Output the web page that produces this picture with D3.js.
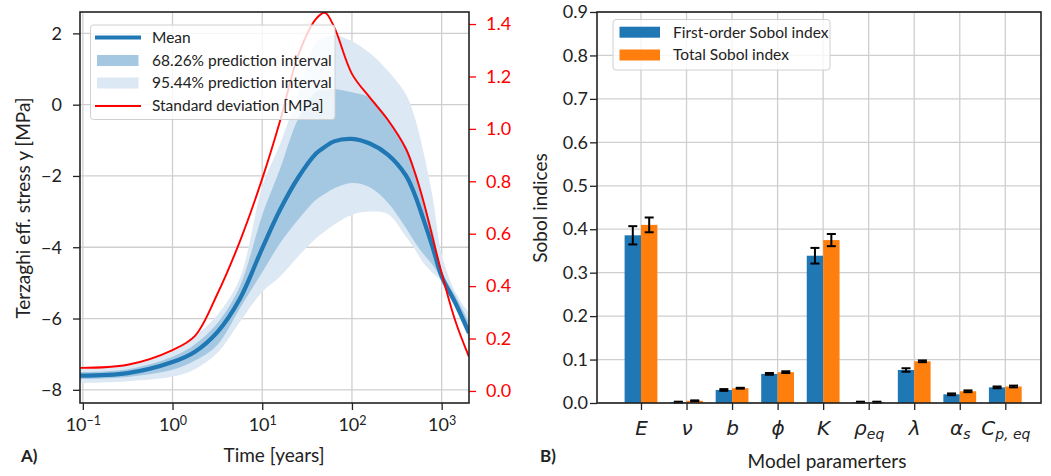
<!DOCTYPE html>
<html><head><meta charset="utf-8">
<script src="https://cdn.jsdelivr.net/npm/d3@7"></script>
<style>
body{margin:0;background:#fff}
svg{display:block}
text{font-family:Lato,"Open Sans",sans-serif;fill:#222}
</style>
</head><body>
<svg id="c" width="1051" height="476"></svg>
<script>
// ---------- Panel A data ----------
const timeYears = [0.093, 0.316, 1, 1.78, 3.16, 5.62, 10, 15.8, 25.1, 39.8, 50.1, 63.1, 100, 158, 251, 398, 501, 631, 794, 1000, 1413, 2018];
const meanStress = [-7.6, -7.53, -7.22, -6.93, -6.38, -5.45, -4.03, -2.95, -2.05, -1.37, -1.18, -1.03, -0.96, -1.09, -1.4, -1.98, -2.52, -3.24, -4.0, -4.82, -5.55, -6.4];
const lower95 = [-7.81, -7.76, -7.63, -7.42, -6.97, -6.1, -5.25, -4.82, -4.26, -3.75, -3.55, -3.37, -3.09, -3.0, -3.07, -3.7, -4.05, -4.45, -4.72, -4.95, -5.68, -6.6];
const lower68 = [-7.7, -7.64, -7.44, -7.18, -6.74, -5.72, -4.7, -3.89, -3.23, -2.67, -2.5, -2.35, -2.2, -2.32, -2.75, -3.45, -3.85, -4.2, -4.5, -4.9, -5.62, -6.5];
const upper68 = [-7.5, -7.42, -7.07, -6.72, -6.13, -5.1, -3.1, -1.8, -0.4, 0.36, 0.42, 0.44, 0.35, 0.2, -0.38, -1.15, -1.8, -2.75, -3.55, -4.65, -5.35, -6.1];
const upper95 = [-7.42, -7.3, -6.93, -6.5, -5.9, -4.87, -2.3, -1.1, 0.3, 1.75, 1.9, 1.95, 1.78, 1.45, 0.95, 0.3, -0.35, -1.36, -2.6, -4.2, -5.25, -5.85];
const stdDev = [0.088, 0.10, 0.156, 0.21, 0.37, 0.57, 0.81, 1.03, 1.28, 1.42, 1.443, 1.39, 1.21, 1.12, 1.035, 0.925, 0.835, 0.72, 0.585, 0.45, 0.27, 0.13];
const timeTicks = [0.1, 1, 10, 100, 1000];
const timeTickExp = ['−1', '0', '1', '2', '3'];
const stressTicks = [-8, -6, -4, -2, 0, 2];
const stdTicks = [0.0, 0.2, 0.4, 0.6, 0.8, 1.0, 1.2, 1.4];
const legendA = ['Mean', '68.26% prediction interval', '95.44% prediction interval', 'Standard deviation [MPa]'];

// ---------- Panel B data ----------
const parameters = ['E', 'ν', 'b', 'ϕ', 'K', 'ρ_eq', 'λ', 'α_s', 'C_p, eq'];
const firstOrder = [0.386, 0.002, 0.030, 0.067, 0.339, 0.002, 0.076, 0.020, 0.036];
const firstOrderErr = [0.021, 0.001, 0.002, 0.002, 0.018, 0.001, 0.004, 0.002, 0.002];
const totalOrder = [0.410, 0.005, 0.034, 0.071, 0.375, 0.002, 0.096, 0.027, 0.038];
const totalOrderErr = [0.017, 0.001, 0.001, 0.002, 0.014, 0.001, 0.002, 0.002, 0.002];
const sobolTicks = [0, 0.1, 0.2, 0.3, 0.4, 0.5, 0.6, 0.7, 0.8, 0.9];
const legendB = ['First-order Sobol index', 'Total Sobol index'];

const BLUE = '#1f77b4', ORANGE = '#ff7f0e', RED = '#ff0000';
const GRID = '#cfcfcf', INK = '#222';
const TICK_FS = 18, TITLE_FS = 19, LEG_FS = 15.5;
const svg = d3.select('#c');
const curve = d3.curveCatmullRom.alpha(0.5);

// ================= Panel A =================
const A = {x0: 80, x1: 469, y0: 12, y1: 403};
const x = d3.scaleLog().domain([0.093, 2018]).range([A.x0, A.x1]);
const y = d3.scaleLinear().domain([-8.37, 2.6]).range([A.y1, A.y0]);
const y2 = d3.scaleLinear().domain([-0.046, 1.446]).range([A.y1, A.y0]);

svg.append('clipPath').attr('id', 'clipA').append('rect')
  .attr('x', A.x0).attr('y', A.y0).attr('width', A.x1 - A.x0).attr('height', A.y1 - A.y0);

const gA = svg.append('g');
gA.selectAll('.vg').data(timeTicks).join('line')
  .attr('x1', d => x(d)).attr('x2', d => x(d)).attr('y1', A.y0).attr('y2', A.y1)
  .attr('stroke', GRID).attr('stroke-width', 1.3);
gA.selectAll('.hg').data(stressTicks).join('line')
  .attr('x1', A.x0).attr('x2', A.x1).attr('y1', d => y(d)).attr('y2', d => y(d))
  .attr('stroke', GRID).attr('stroke-width', 1.3);

const pts = timeYears.map((t, i) => ({t, m: meanStress[i], l95: lower95[i], l68: lower68[i], u68: upper68[i], u95: upper95[i], s: stdDev[i]}));
const plot = gA.append('g').attr('clip-path', 'url(#clipA)');
plot.append('path').datum(pts)
  .attr('d', d3.area().x(d => x(d.t)).y0(d => y(d.l95)).y1(d => y(d.u95)).curve(curve))
  .attr('fill', '#dce8f3');
plot.append('path').datum(pts)
  .attr('d', d3.area().x(d => x(d.t)).y0(d => y(d.l68)).y1(d => y(d.u68)).curve(curve))
  .attr('fill', '#a5c8e2');
plot.append('path').datum(pts)
  .attr('d', d3.line().x(d => x(d.t)).y(d => y(d.m)).curve(curve))
  .attr('fill', 'none').attr('stroke', BLUE).attr('stroke-width', 4.2);
plot.append('path').datum(pts)
  .attr('d', d3.line().x(d => x(d.t)).y(d => y2(d.s)).curve(curve))
  .attr('fill', 'none').attr('stroke', RED).attr('stroke-width', 1.9);

const axL = gA.append('g').attr('transform', `translate(${A.x0},0)`)
  .call(d3.axisLeft(y).tickValues(stressTicks).tickSize(7).tickPadding(11).tickFormat(d3.format('d')));
axL.select('.domain').remove();
axL.selectAll('line').attr('stroke', INK).attr('stroke-width', 1.3);
axL.selectAll('text').attr('font-size', TICK_FS).attr('fill', INK).style('font-family', 'Lato');

const axR = gA.append('g').attr('transform', `translate(${A.x1},0)`)
  .call(d3.axisRight(y2).tickValues(stdTicks).tickSize(7).tickPadding(10).tickFormat(d3.format('.1f')));
axR.select('.domain').remove();
axR.selectAll('line').attr('stroke', RED).attr('stroke-width', 1.3);
axR.selectAll('text').attr('font-size', TICK_FS).style('fill', RED).style('font-family', 'Lato');

const axB = gA.append('g').attr('transform', `translate(0,${A.y1})`)
  .call(d3.axisBottom(x).tickValues(timeTicks).tickSize(7).tickPadding(8).tickFormat(''));
axB.select('.domain').remove();
axB.selectAll('line').attr('stroke', INK).attr('stroke-width', 1.3);
axB.selectAll('.tick').each(function(d, i) {
  const t = d3.select(this).select('text').attr('font-size', TICK_FS).attr('fill', INK).style('font-family', 'Lato').text(null);
  t.append('tspan').text('10');
  t.append('tspan').attr('dy', '-0.45em').attr('font-size', 12.5).text(timeTickExp[i]);
});

gA.append('rect').attr('x', A.x0).attr('y', A.y0).attr('width', A.x1 - A.x0).attr('height', A.y1 - A.y0)
  .attr('fill', 'none').attr('stroke', INK).attr('stroke-width', 1.6);

// legend A
const lg = gA.append('g');
lg.append('rect').attr('x', 90.5).attr('y', 25).attr('width', 244.5).attr('height', 94.5).attr('rx', 3)
  .attr('fill', '#fff').attr('fill-opacity', 0.8).attr('stroke', '#d0d0d0').attr('stroke-width', 1);
const rowY = [37.5, 60.5, 83, 106];
lg.append('line').attr('x1', 95).attr('x2', 141).attr('y1', rowY[0]).attr('y2', rowY[0]).attr('stroke', BLUE).attr('stroke-width', 4.2);
lg.append('rect').attr('x', 97).attr('y', rowY[1] - 5.5).attr('width', 41.5).attr('height', 11).attr('fill', '#a5c8e2');
lg.append('rect').attr('x', 97).attr('y', rowY[2] - 5.5).attr('width', 41.5).attr('height', 11).attr('fill', '#dce8f3');
lg.append('line').attr('x1', 95).attr('x2', 141).attr('y1', rowY[3]).attr('y2', rowY[3]).attr('stroke', RED).attr('stroke-width', 1.9);
lg.selectAll('.lt').data(legendA).join('text')
  .attr('x', 152).attr('y', (d, i) => rowY[i]).attr('dy', '0.35em')
  .attr('font-size', LEG_FS).text(d => d);

svg.append('text').attr('x', 274).attr('y', 462).attr('text-anchor', 'middle').attr('font-size', TITLE_FS).text('Time [years]');
svg.append('text').attr('transform', 'translate(30,208) rotate(-90)').attr('text-anchor', 'middle').attr('font-size', TITLE_FS)
  .text('Terzaghi eff. stress y [MPa]');
svg.append('text').attr('x', 21).attr('y', 462).attr('font-size', 17).attr('font-weight', 'bold').text('A)');

// ================= Panel B =================
const B = {x0: 597, x1: 1041, y0: 12, y1: 403};
const xb = d3.scaleLinear().domain([-0.966, 8.784]).range([B.x0, B.x1]);
const yb = d3.scaleLinear().domain([0, 0.9]).range([B.y1, B.y0]);
const gB = svg.append('g');
gB.selectAll('.vg').data(parameters.map((p, i) => i)).join('line')
  .attr('x1', d => xb(d)).attr('x2', d => xb(d)).attr('y1', B.y0).attr('y2', B.y1)
  .attr('stroke', GRID).attr('stroke-width', 1.3);
gB.selectAll('.hg').data(sobolTicks).join('line')
  .attr('x1', B.x0).attr('x2', B.x1).attr('y1', d => yb(d)).attr('y2', d => yb(d))
  .attr('stroke', GRID).attr('stroke-width', 1.3);

const BW = 0.36;
const bars = parameters.map((p, i) => ({i, f: firstOrder[i], fe: firstOrderErr[i], t: totalOrder[i], te: totalOrderErr[i]}));
gB.selectAll('.bf').data(bars).join('rect')
  .attr('x', d => xb(d.i - BW)).attr('width', d => xb(d.i) - xb(d.i - BW))
  .attr('y', d => yb(d.f)).attr('height', d => yb(0) - yb(d.f)).attr('fill', BLUE);
gB.selectAll('.bt').data(bars).join('rect')
  .attr('x', d => xb(d.i)).attr('width', d => xb(d.i + BW) - xb(d.i))
  .attr('y', d => yb(d.t)).attr('height', d => yb(0) - yb(d.t)).attr('fill', ORANGE);

function errBar(cx, v, e) {
  const g = gB.append('g').attr('stroke', '#000').attr('stroke-width', 2);
  g.append('line').attr('x1', cx).attr('x2', cx).attr('y1', yb(v - e)).attr('y2', yb(v + e));
  g.append('line').attr('x1', cx - 4.5).attr('x2', cx + 4.5).attr('y1', yb(v - e)).attr('y2', yb(v - e));
  g.append('line').attr('x1', cx - 4.5).attr('x2', cx + 4.5).attr('y1', yb(v + e)).attr('y2', yb(v + e));
}
bars.forEach(d => {
  errBar(xb(d.i - BW / 2), d.f, d.fe);
  errBar(xb(d.i + BW / 2), d.t, d.te);
});

const axBL = gB.append('g').attr('transform', `translate(${B.x0},0)`)
  .call(d3.axisLeft(yb).tickValues(sobolTicks).tickSize(7).tickPadding(2).tickFormat(d3.format('.1f')));
axBL.select('.domain').remove();
axBL.selectAll('line').attr('stroke', INK).attr('stroke-width', 1.3);
axBL.selectAll('text').attr('font-size', TICK_FS).attr('fill', INK).style('font-family', 'Lato');

const axBB = gB.append('g').attr('transform', `translate(0,${B.y1})`)
  .call(d3.axisBottom(xb).tickValues(parameters.map((p, i) => i)).tickSize(7).tickPadding(8).tickFormat(''));
axBB.select('.domain').remove();
axBB.selectAll('line').attr('stroke', INK).attr('stroke-width', 1.3);
axBB.selectAll('.tick').each(function(d, i) {
  const parts = parameters[i].split('_');
  const t = d3.select(this).select('text').text(null)
    .attr('y', 0).attr('dy', 0).attr('transform', 'translate(0,32)')
    .style('font-family', '"DejaVu Sans"').attr('font-style', 'italic').attr('font-size', 20).attr('fill', INK);
  t.append('tspan').text(parts[0]);
  if (parts[1]) t.append('tspan').attr('dy', '0.3em').attr('font-size', 14).text(parts[1]);
});

gB.append('rect').attr('x', B.x0).attr('y', B.y0).attr('width', B.x1 - B.x0).attr('height', B.y1 - B.y0)
  .attr('fill', 'none').attr('stroke', INK).attr('stroke-width', 1.6);

const lb = gB.append('g');
lb.append('rect').attr('x', 613).attr('y', 19.5).attr('width', 217).attr('height', 50.5).attr('rx', 3)
  .attr('fill', '#fff').attr('fill-opacity', 0.8).attr('stroke', '#d0d0d0').attr('stroke-width', 1);
const rowB = [32.2, 55];
lb.selectAll('.lp').data(legendB).join('rect')
  .attr('x', 619.5).attr('y', (d, i) => rowB[i] - 5.5).attr('width', 40.5).attr('height', 11)
  .attr('fill', (d, i) => i ? ORANGE : BLUE);
lb.selectAll('.lt').data(legendB).join('text')
  .attr('x', 673).attr('y', (d, i) => rowB[i]).attr('dy', '0.35em').attr('font-size', LEG_FS).text(d => d);

svg.append('text').attr('x', 827).attr('y', 468).attr('text-anchor', 'middle').attr('font-size', TITLE_FS).text('Model paramerters');
svg.append('text').attr('transform', 'translate(547,208) rotate(-90)').attr('text-anchor', 'middle').attr('font-size', TITLE_FS)
  .text('Sobol indices');
svg.append('text').attr('x', 540).attr('y', 462).attr('font-size', 17).attr('font-weight', 'bold').text('B)');
</script>
</body></html>
